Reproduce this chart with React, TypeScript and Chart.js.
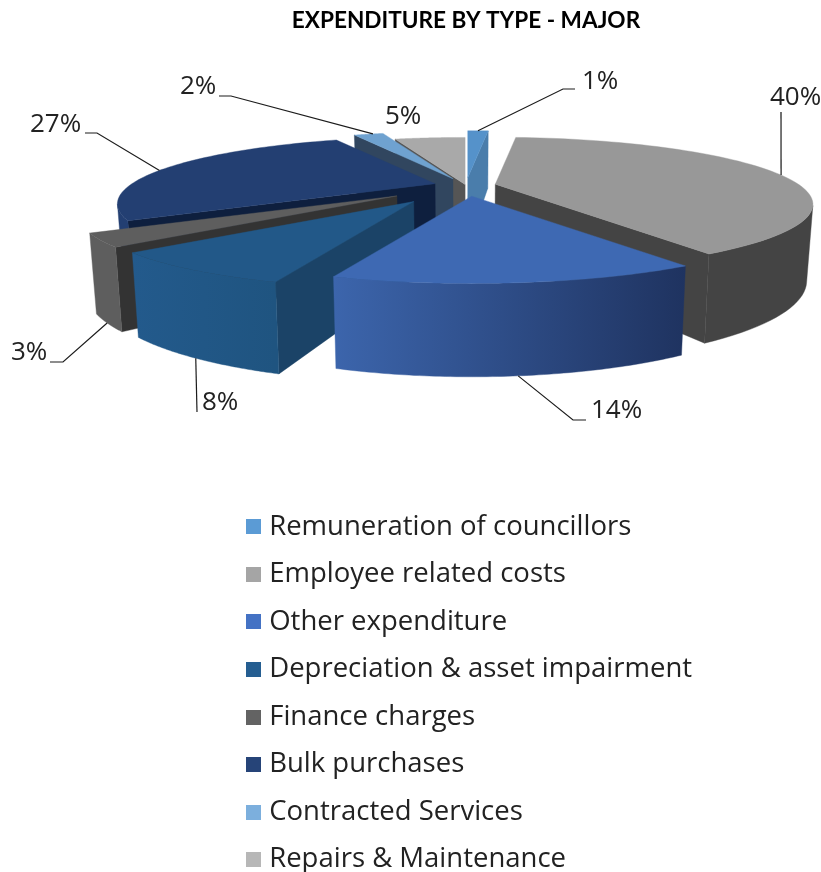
import React, { useEffect, useRef } from "react";
import { Chart, registerables } from "chart.js";

Chart.register(...registerables);

const TITLE = "EXPENDITURE BY TYPE - MAJOR";
const CATEGORIES = [
  "Remuneration of councillors",
  "Employee related costs",
  "Other expenditure",
  "Depreciation & asset impairment",
  "Finance charges",
  "Bulk purchases",
  "Contracted Services",
  "Repairs & Maintenance",
];
const VALUES = [1.4, 39.8, 14.1, 8, 3.1, 26.8, 2, 4.8];
const EXPLOSION = [13.5, 10, 16.5, 29, 27, 10.8, 12.5, 2];

const LEGEND_COLORS = ["#5B9BD5", "#A5A5A5", "#4472C4", "#255E91", "#636363", "#264478", "#7CAFDD", "#B7B7B7"];
const TOP_COLORS = ["#5592CA", "#989898", "#3E69B3", "#225888", "#5E5E5E", "#233F72", "#6FA2D0", "#A9A9A9"];
const WALL_LEFT = ["#4A7DAB", "#444444", "#3C65AC", "#235A8C", "#5E5E5E", "#233F72", "#31465F", "#555555"];
const WALL_RIGHT = ["#4A7DAB", "#444444", "#1F3360", "#1F5480", "#5E5E5E", "#233F72", "#31465F", "#555555"];
const RADIAL_COLORS = ["#4A7DAB", "#444444", "#2A4680", "#1B4367", "#333333", "#0E1F3E", "#31465F", "#555555"];

// leader lines: fraction along the arc, whether it leaves the lower rim, remaining bends
const LEADER_FRACTION = [0.5, 0.53, 0.5, 0.5, 0.5, 0.46, 0.65, 0.5];
const LEADER_LOWER = [false, false, true, true, true, false, false, false];
const LEADER_BENDS: number[][][] = [
  [[563, 89], [575, 89]],
  [[781, 112]],
  [[573, 420], [586, 420]],
  [[197, 412]],
  [[63, 362], [50, 362]],
  [[97, 133], [85, 133]],
  [[231, 96], [219, 96]],
  [],
];
const LABEL_X = [582, 770, 591, 202, 11, 30, 180, 385];
const LABEL_Y = [82, 98, 411, 403, 353, 125, 87, 117];

const PERSPECTIVE = 0.3;
const DEPTH_PERSPECTIVE = 0.24;
const TILT = 0.42;
const DEPTH = 71;
const CONVERGE = 0.982;
const TEXT_FONT = '"Open Sans", sans-serif';

function swatch(color: string) {
  const c = document.createElement("canvas");
  c.width = 15;
  c.height = 15;
  const x = c.getContext("2d")!;
  x.fillStyle = color;
  x.fillRect(0, 0, 15, 15);
  return c;
}

const pie3d = {
  id: "pie3d",
  afterLayout(chart: any) {
    const legend = chart.legend;
    legend.update(560, 420, { left: 0, top: 0, right: 0, bottom: 0 });
    legend.left = 231.4;
    legend.right = 231.4 + legend.width;
    legend.top = 493;
    legend.bottom = 493 + legend.height;
  },
  beforeDatasetDraw(chart: any, args: any) {
    const ctx: CanvasRenderingContext2D = chart.ctx;
    const arcs = args.meta.data;
    const F = chart.chartArea.width / 2;
    const G = (chart.chartArea.height / 2) * TILT;
    const geo = arcs.map((el: any, i: number) => {
      const a0 = el.startAngle + Math.PI / 2;
      const a1 = el.endAngle + Math.PI / 2;
      const mid = (a0 + a1) / 2;
      const e = EXPLOSION[i] / 100;
      const ex = e * Math.sin(mid);
      const ey = -e * Math.cos(mid);
      const w = 1 - PERSPECTIVE * ey;
      return { a0, a1, mid, ax: el.x + (F * ex) / w, ay: el.y + (G * ey) / w, ey, cx: el.x };
    });
    const top = (g: any, th: number) => {
      const X = Math.sin(th);
      const Y = -Math.cos(th);
      const w = 1 - PERSPECTIVE * Y;
      return { x: g.ax + (F * X) / w, y: g.ay + (G * Y) / w, Y };
    };
    const low = (g: any, p: { x: number; y: number; Y: number }) => ({
      x: g.cx + (p.x - g.cx) * CONVERGE,
      y: p.y + DEPTH / (1 - DEPTH_PERSPECTIVE * p.Y),
    });
    const poly = (pts: { x: number; y: number }[], fill: any) => {
      ctx.beginPath();
      pts.forEach((p, k) => (k ? ctx.lineTo(p.x, p.y) : ctx.moveTo(p.x, p.y)));
      ctx.closePath();
      ctx.fillStyle = fill;
      ctx.fill();
      ctx.strokeStyle = fill;
      ctx.lineWidth = 0.4;
      ctx.stroke();
    };
    const order = arcs
      .map((_: any, i: number) => i)
      .sort((p: number, q: number) => -Math.cos(geo[p].mid) + Math.cos(geo[q].mid));
    ctx.save();
    order.forEach((i: number) => {
      const g = geo[i];
      const n = 72;
      const rim = [];
      for (let k = 0; k <= n; k++) rim.push(top(g, g.a0 + ((g.a1 - g.a0) * k) / n));
      const apex = { x: g.ax, y: g.ay, Y: g.ey };
      // radial walls that face the viewer
      const first = rim[0];
      const last = rim[n];
      if (first.x < apex.x - 0.5) poly([apex, first, low(g, first), low(g, apex)], RADIAL_COLORS[i]);
      if (last.x > apex.x + 0.5) poly([last, apex, low(g, apex), low(g, last)], RADIAL_COLORS[i]);
      // outer wall: the part of the rim running right to left on screen
      const front = [];
      for (let k = 0; k <= n; k++) {
        const prev = rim[Math.max(k - 1, 0)];
        const next = rim[Math.min(k + 1, n)];
        if (next.x < prev.x) front.push(rim[k]);
      }
      if (front.length > 1) {
        const grad = ctx.createLinearGradient(front[front.length - 1].x, 0, front[0].x, 0);
        grad.addColorStop(0, WALL_LEFT[i]);
        grad.addColorStop(1, WALL_RIGHT[i]);
        poly([...front, ...front.slice().reverse().map((p: any) => low(g, p))], grad);
      }
      poly([apex, ...rim], TOP_COLORS[i]);
    });
    ctx.restore();
    return false;
  },
  afterDatasetsDraw(chart: any) {
    const ctx: CanvasRenderingContext2D = chart.ctx;
    const meta = chart.getDatasetMeta(0);
    const F = chart.chartArea.width / 2;
    const G = (chart.chartArea.height / 2) * TILT;
    const total = VALUES.reduce((s, v) => s + v, 0);
    ctx.save();
    meta.data.forEach((el: any, i: number) => {
      const a0 = el.startAngle + Math.PI / 2;
      const a1 = el.endAngle + Math.PI / 2;
      const mid = (a0 + a1) / 2;
      const e = EXPLOSION[i] / 100;
      const ex = e * Math.sin(mid);
      const ey = -e * Math.cos(mid);
      const we = 1 - PERSPECTIVE * ey;
      const th = a0 + (a1 - a0) * LEADER_FRACTION[i];
      const X = Math.sin(th);
      const Y = -Math.cos(th);
      const w = 1 - PERSPECTIVE * Y;
      let sx = el.x + (F * ex) / we + (F * X) / w;
      let sy = el.y + (G * ey) / we + (G * Y) / w;
      if (LEADER_LOWER[i]) {
        sx = el.x + (sx - el.x) * CONVERGE;
        sy += DEPTH / (1 - DEPTH_PERSPECTIVE * Y);
      }
      if (LEADER_BENDS[i].length) {
        ctx.beginPath();
        ctx.moveTo(sx, sy);
        LEADER_BENDS[i].forEach((b) => ctx.lineTo(b[0], b[1]));
        ctx.strokeStyle = "#1c1c1c";
        ctx.lineWidth = 1.2;
        ctx.stroke();
      }
      ctx.fillStyle = "#222222";
      ctx.font = `26px ${TEXT_FONT}`;
      ctx.textAlign = "left";
      ctx.textBaseline = "middle";
      ctx.fillText(`${Math.round((VALUES[i] / total) * 100)}%`, LABEL_X[i], LABEL_Y[i]);
    });
    ctx.restore();
  },
};

export default function App() {
  const ref = useRef<HTMLCanvasElement>(null);
  useEffect(() => {
    const chart = new Chart(ref.current!, {
      type: "pie",
      data: {
        labels: CATEGORIES,
        datasets: [{ data: VALUES, backgroundColor: LEGEND_COLORS, borderWidth: 0, offset: EXPLOSION } as any],
      },
      options: {
        responsive: false,
        animation: false,
        events: [],
        layout: { padding: { left: 163, right: 52, top: 0, bottom: 541 } },
        plugins: {
          tooltip: { enabled: false },
          title: {
            display: true,
            text: TITLE,
            fullSize: false,
            color: "#000000",
            font: { family: "Lato, sans-serif", size: 22.6, weight: "bold" },
            padding: { top: 7.5, bottom: 5.6 },
          } as any,
          legend: {
            display: true,
            position: "chartArea",
            align: "start",
            labels: {
              usePointStyle: true,
              boxWidth: 4,
              padding: 20.05,
              color: "#222222",
              font: { family: TEXT_FONT, size: 27.5 },
              generateLabels: (c: any) =>
                (Chart as any).overrides.doughnut.plugins.legend.labels
                  .generateLabels(c)
                  .map((item: any, i: number) => ({ ...item, pointStyle: swatch(LEGEND_COLORS[i]) })),
            },
          } as any,
        },
      } as any,
      plugins: [pie3d as any],
    });
    return () => chart.destroy();
  }, []);
  return (
    <div style={{ position: "absolute", left: 0, top: 0, width: 821, height: 872 }}>
      <canvas ref={ref} width={821} height={872} style={{ display: "block" }} />
    </div>
  );
}
